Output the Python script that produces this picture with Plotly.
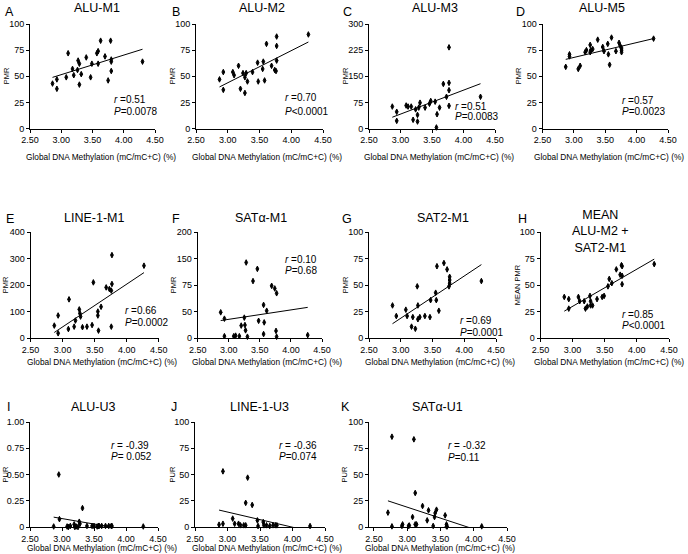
import numpy as np
import plotly.graph_objects as go

W, H = 688, 554
FONT = "Arial, 'Liberation Sans', sans-serif"

# ---------------- data ----------------
x_tick_vals = [2.5, 3.0, 3.5, 4.0, 4.5]
x_tick_text = ["2.50", "3.00", "3.50", "4.00", "4.50"]
x_axis_title = "Global DNA Methylation (mC/mC+C) (%)"

pmr100_ticks = [0, 25, 50, 75, 100]
pmr100_text = ["0", "25", "50", "75", "100"]
pmr300_ticks = [0, 75, 150, 225, 300]
pmr300_text = ["0", "75", "150", "225", "300"]
pmr400_ticks = [0, 100, 200, 300, 400]
pmr400_text = ["0", "100", "200", "300", "400"]
sata_m1_ticks = [0, 50, 100, 150, 200]
sata_m1_text = ["0", "50", "75", "150", "200"]
pur1_ticks = [0, 0.25, 0.5, 0.75, 1.0]
pur1_text = ["0", "0.25", "0.50", "0.75", "1.00"]

alu_m1_x = [2.86, 2.93, 2.93, 3.08, 3.11, 3.18, 3.20, 3.26, 3.27, 3.29, 3.29, 3.32, 3.40,
            3.47, 3.49, 3.57, 3.59, 3.59, 3.63, 3.70, 3.75, 3.79, 3.80, 3.80, 3.80, 4.30]
alu_m1_y = [43, 38, 47, 49, 72, 57, 51, 56, 65, 62, 42, 52, 68,
            49, 62, 72, 74, 62, 84, 69, 46, 84, 64, 66, 55, 64]

alu_m2_x = [2.87, 2.93, 2.93, 3.08, 3.10, 3.17, 3.20, 3.24, 3.27, 3.27, 3.29, 3.31, 3.39,
            3.47, 3.48, 3.55, 3.56, 3.58, 3.61, 3.69, 3.74, 3.76, 3.77, 3.77, 3.77, 4.27]
alu_m2_y = [47, 37, 54, 54, 51, 60, 38, 53, 34, 49, 53, 45, 54,
            63, 45, 57, 64, 46, 81, 60, 56, 55, 65, 79, 88, 90]

alu_m3_x = [2.87, 2.94, 2.94, 3.09, 3.12, 3.17, 3.20, 3.24, 3.27, 3.27, 3.29, 3.31, 3.39,
            3.46, 3.48, 3.55, 3.58, 3.57, 3.62, 3.68, 3.73, 3.77, 3.77, 3.77, 3.77, 4.27]
alu_m3_y = [63, 48, 22, 66, 63, 63, 25, 55, 39, 20, 60, 74, 60,
            71, 79, 77, 41, 3, 60, 128, 91, 131, 110, 65, 233, 91]

alu_m5_x = [2.87, 2.93, 2.93, 3.07, 3.10, 3.18, 3.20, 3.26, 3.26, 3.27, 3.30, 3.38, 3.46,
            3.48, 3.54, 3.55, 3.57, 3.60, 3.67, 3.72, 3.74, 3.76, 3.76, 3.76, 4.27]
alu_m5_y = [59, 69, 71, 57, 60, 73, 75, 80, 73, 75, 76, 85, 78,
            74, 81, 71, 61, 87, 74, 82, 79, 77, 75, 73, 86]

line1_m1_x = [2.87, 2.93, 2.93, 3.10, 3.09, 3.18, 3.20, 3.26, 3.27, 3.28, 3.31, 3.38, 3.46,
              3.48, 3.55, 3.55, 3.56, 3.60, 3.68, 3.73, 3.76, 3.77, 3.77, 3.76, 4.27]
line1_m1_y = [48, 86, 19, 147, 35, 44, 67, 109, 94, 82, 42, 44, 50,
              211, 101, 86, 29, 119, 192, 186, 180, 205, 314, 44, 274]

sata_m1_x = [2.87, 2.93, 2.93, 3.08, 3.11, 3.17, 3.20, 3.25, 3.26, 3.27, 3.30, 3.28, 3.39,
             3.46, 3.48, 3.56, 3.56, 3.57, 3.61, 3.69, 3.74, 3.77, 3.76, 3.77, 4.27]
sata_m1_y = [49, 37, 4, 4, 5, 4, 24, 39, 25, 15, 3, 143, 108,
             131, 33, 63, 8, 30, 52, 99, 94, 85, 14, 3, 6]

sat2_m1_x = [2.87, 2.93, 3.08, 3.10, 3.17, 3.19, 3.23, 3.26, 3.27, 3.27, 3.30, 3.38, 3.46,
             3.47, 3.55, 3.56, 3.57, 3.60, 3.68, 3.73, 3.77, 3.77, 3.77, 3.76, 4.27]
sat2_m1_y = [31, 21, 27, 21, 11, 20, 9, 49, 31, 18, 20, 21, 20,
             36, 43, 36, 68, 26, 71, 65, 58, 55, 52, 49, 54]

mean_x = [2.87, 2.94, 2.94, 3.09, 3.11, 3.18, 3.20, 3.23, 3.27, 3.28, 3.28, 3.31, 3.38,
          3.46, 3.49, 3.55, 3.57, 3.61, 3.68, 3.74, 3.76, 3.77, 3.77, 3.77, 4.27]
mean_y = [39, 37, 28, 39, 35, 35, 28, 30, 40, 35, 31, 31, 37,
          39, 40, 49, 56, 52, 65, 60, 69, 68, 59, 51, 70]

alu_u3_x = [2.87, 2.95, 2.96, 3.08, 3.10, 3.13, 3.19, 3.20, 3.22, 3.25, 3.27, 3.28, 3.32,
            3.39, 3.47, 3.50, 3.55, 3.57, 3.58, 3.62, 3.68, 3.73, 3.77, 3.78, 4.27]
alu_u3_y = [0.005, 0.50, 0.075, 0.005, 0.0, 0.01, 0.025, 0.0, 0.005, 0.0, 0.05, 0.03, 0.18,
            0.01, 0.01, 0.01, 0.005, 0.01, 0.01, 0.01, 0.01, 0.01, 0.01, 0.01, 0.005]

line1_u3_x = [2.87, 2.93, 2.93, 3.08, 3.11, 3.17, 3.20, 3.25, 3.28, 3.28, 3.31, 3.38, 3.46,
              3.47, 3.55, 3.56, 3.60, 3.65, 3.70, 3.74, 3.76, 4.27]
line1_u3_y = [2.2, 3.1, 53, 8, 3.1, 3.1, 1.6, 1.6, 1.6, 23, 47, 21, 6.3,
              0.9, 4.7, 1.6, 1.6, 1.0, 1.6, 1.6, 1.6, 0.9]

sata_u1_x = [2.71, 2.77, 2.77, 2.92, 2.93, 3.02, 3.03, 3.08, 3.10, 3.12, 3.12, 3.14, 3.23,
             3.30, 3.32, 3.39, 3.41, 3.42, 3.44, 3.57, 3.59, 3.59, 3.60, 4.12]
sata_u1_y = [13.7, 86, 0.6, 1.0, 2.5, 1.0, 1.5, 9.5, 83.5, 32.4, 2.5, 2.5, 20,
             6.3, 15.9, 1.0, 9.5, 13.3, 16.5, 11.1, 2.5, 0.6, 0.5, 0.6]

panels = [
    dict(letter="A", title="ALU-M1", ytitle="PMR", x=alu_m1_x, y=alu_m1_y,
         yt=pmr100_ticks, ytt=pmr100_text, r="=0.51", p="=0.0078"),
    dict(letter="B", title="ALU-M2", ytitle="PMR", x=alu_m2_x, y=alu_m2_y,
         yt=pmr100_ticks, ytt=pmr100_text, r="=0.70", p="&lt;0.0001"),
    dict(letter="C", title="ALU-M3", ytitle="PMR", x=alu_m3_x, y=alu_m3_y,
         yt=pmr300_ticks, ytt=pmr300_text, r="=0.51", p="=0.0083"),
    dict(letter="D", title="ALU-M5", ytitle="PMR", x=alu_m5_x, y=alu_m5_y,
         yt=pmr100_ticks, ytt=pmr100_text, r="=0.57", p="=0.0023"),
    dict(letter="E", title="LINE-1-M1", ytitle="PMR", x=line1_m1_x, y=line1_m1_y,
         yt=pmr400_ticks, ytt=pmr400_text, r="=0.66", p="=0.0002"),
    dict(letter="F", title="SATα-M1", ytitle="PMR", x=sata_m1_x, y=sata_m1_y,
         yt=sata_m1_ticks, ytt=sata_m1_text, r="=0.10", p="=0.68"),
    dict(letter="G", title="SAT2-M1", ytitle="PMR", x=sat2_m1_x, y=sat2_m1_y,
         yt=pmr100_ticks, ytt=pmr100_text, r="=0.69", p="=0.0001"),
    dict(letter="H", title="MEAN<br>ALU-M2 +<br>SAT2-M1", ytitle="MEAN PMR", x=mean_x, y=mean_y,
         yt=pmr100_ticks, ytt=pmr100_text, r="=0.85", p="&lt;0.0001"),
    dict(letter="I", title="ALU-U3", ytitle="PUR", x=alu_u3_x, y=alu_u3_y,
         yt=pur1_ticks, ytt=pur1_text, r="= -0.39", p="= 0.052"),
    dict(letter="J", title="LINE-1-U3", ytitle="PUR", x=line1_u3_x, y=line1_u3_y,
         yt=pmr100_ticks, ytt=pmr100_text, r="= -0.36", p="=0.074"),
    dict(letter="K", title="SATα-U1", ytitle="PUR", x=sata_u1_x, y=sata_u1_y,
         yt=pmr100_ticks, ytt=pmr100_text, r="= -0.32", p="=0.11"),
]

# ---------------- layout geometry (pixels) ----------------
ROWS = [(24, 128.5, 8.5, 12, 157), (232.3, 338.3, 218, 219, 362), (422, 527, 407, 407, 548)]
geom = [
    # x0, x1, xmin, row, title_x, letter_x, ytitle_x, stat_x, r_y, p_y, xlabel_x
    (30, 155, 2.5, 0, 97, 9, 6, 112, 99.3, 111.7, 101),
    (196, 323, 2.5, 0, 262, 176, 172, 283, 97.7, 111.7, 267),
    (369, 495, 2.5, 0, 435, 347, 345, 453, 106, 116.7, 439),
    (542.5, 668, 2.5, 0, 602, 520, 518, 620, 100, 111.7, 609),
    (30.6, 158.7, 2.5, 1, 94, 10, 5, 123, 310.7, 322.3, 102),
    (197.7, 322, 2.5, 1, 261, 176, 173, 283, 259.3, 270, 267),
    (369, 496, 2.5, 1, 443, 347, 345, 458, 320, 332.3, 440),
    (540.5, 669, 2.5, 1, 600, 522, 517, 620, 314, 325, 609),
    (30, 158, 2.5, 2, 93, 8, 5, 109, 445, 456, 102),
    (195, 325, 2.5, 2, 259, 174, 172, 277, 445, 456.7, 267),
    (369, 507, 2.425, 2, 437, 345, 344, 446, 445, 457.3, 440),
]


def fx(px):
    return px / W


def fy(py):
    return 1 - py / H


fig = go.Figure()
annotations = []
axis_common = dict(showline=True, linecolor="black", linewidth=1, ticks="outside",
                   ticklen=3, tickwidth=1, tickcolor="black", showgrid=False,
                   zeroline=False, automargin=False, fixedrange=True)

for i, (pn, g) in enumerate(zip(panels, geom), start=1):
    x0, x1, xmin, row, tx, lx, ytx, sx, ry, pyy, xlx = g
    top, bot, title_y, letter_y, xlabel_y = ROWS[row]
    xa = "x" if i == 1 else f"x{i}"
    ya = "y" if i == 1 else f"y{i}"
    xs = np.array(pn["x"], dtype=float)
    ys = np.array(pn["y"], dtype=float)
    slope, intercept = np.polyfit(xs, ys, 1)
    lx_vals = np.array([xs.min(), xs.max()])
    fig.add_trace(go.Scatter(x=lx_vals, y=slope * lx_vals + intercept, mode="lines",
                             line=dict(color="black", width=1), xaxis=xa, yaxis=ya,
                             showlegend=False, hoverinfo="skip"))
    fig.add_trace(go.Scatter(x=xs, y=ys, mode="markers", xaxis=xa, yaxis=ya,
                             marker=dict(symbol="diamond-tall", size=4, color="black",
                                         line=dict(color="black", width=1)),
                             cliponaxis=False, showlegend=False))
    fig.layout[f"xaxis{i}"] = dict(domain=[fx(x0), fx(x1)], range=[xmin, 4.5], anchor=ya,
                                   tickvals=x_tick_vals, ticktext=x_tick_text,
                                   tickfont=dict(family=FONT, size=9, color="black"),
                                   **axis_common)
    ymax = max(pn["yt"])
    fig.layout[f"yaxis{i}"] = dict(domain=[fy(bot), fy(top)], range=[0, ymax], anchor=xa,
                                   tickvals=pn["yt"], ticktext=pn["ytt"],
                                   tickfont=dict(family=FONT, size=9, color="black"),
                                   **axis_common)
    if "<br>" in pn["title"]:
        annotations.append(dict(text=pn["title"], x=fx(tx), y=fy(231.5), xref="paper", yref="paper",
                                showarrow=False, font=dict(family=FONT, size=12.5, color="black"),
                                xanchor="center", yanchor="middle"))
    else:
        annotations.append(dict(text=pn["title"], x=fx(tx), y=fy(title_y), xref="paper", yref="paper",
                                showarrow=False, font=dict(family=FONT, size=12.5, color="black"),
                                xanchor="center", yanchor="middle"))
    annotations.append(dict(text=pn["letter"], x=fx(lx), y=fy(letter_y), xref="paper", yref="paper",
                            showarrow=False, font=dict(family=FONT, size=12.5, color="black"),
                            xanchor="center", yanchor="middle"))
    annotations.append(dict(text=pn["ytitle"], x=fx(ytx), y=fy((top + bot) / 2), xref="paper",
                            yref="paper", showarrow=False, textangle=-90,
                            font=dict(family=FONT, size=7.5, color="black"),
                            xanchor="center", yanchor="middle"))
    annotations.append(dict(text=x_axis_title, x=fx(xlx), y=fy(xlabel_y), xref="paper", yref="paper",
                            showarrow=False, font=dict(family=FONT, size=8.3, color="black"),
                            xanchor="center", yanchor="middle"))
    annotations.append(dict(text="<i>r</i> " + pn["r"], x=fx(sx), y=fy(ry), xref="paper", yref="paper",
                            showarrow=False, font=dict(family=FONT, size=10, color="black"),
                            xanchor="left", yanchor="middle"))
    annotations.append(dict(text="<i>P</i>" + pn["p"], x=fx(sx), y=fy(pyy), xref="paper", yref="paper",
                            showarrow=False, font=dict(family=FONT, size=10, color="black"),
                            xanchor="left", yanchor="middle"))

fig.update_layout(width=W, height=H, autosize=False, margin=dict(l=0, r=0, t=0, b=0, pad=0),
                  paper_bgcolor="white", plot_bgcolor="white", annotations=annotations,
                  font=dict(family=FONT, color="black"), hovermode=False)
fig.write_html("out.html", config={"displayModeBar": False, "staticPlot": True},
               post_script="document.body.style.margin='0px';document.body.style.padding='0px';"
                           "document.body.style.overflow='hidden';")
